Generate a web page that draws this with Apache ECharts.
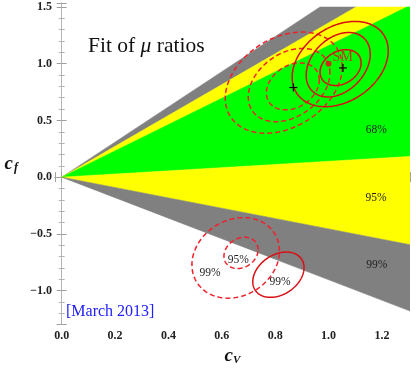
<!DOCTYPE html>
<html>
<head>
<meta charset="utf-8">
<script src="https://cdn.jsdelivr.net/npm/echarts@6/dist/echarts.min.js"></script>
<style>html,body{margin:0;padding:0;background:#fff;}#c{width:417px;height:371px;}</style>
</head>
<body>
<div id="c"></div>
<script>
// ---- data ----
const xRange = [-0.025, 1.305];
const yRange = [-1.3, 1.535];
const wedgeClipY = [-1.3, 1.5];
// wedge boundaries (slopes cf/cV), [low, high, colour]
const wedgeLow  = [1.36, 1.16, 0.14, -0.456, -0.905];
const wedgeHigh = [1.55, 1.36, 1.16, 0.14, -0.456];
const wedgeColor = ['#808080', '#ffff00', '#00ff00', '#ffff00', '#808080'];
// ellipses: centre x, centre y, half-width, half-height, phase (deg)
const solidEllipses = [
  [1.0435, 0.997, 0.180, 0.376, 72],
  [1.036, 0.991, 0.120, 0.284, 71],
  [1.045, 0.966, 0.077, 0.158, 75],
  [0.812, -0.860, 0.096, 0.200, 72]
];
const dashedEllipses = [
  [0.832, 0.833, 0.219, 0.446, 72],
  [0.852, 0.812, 0.153, 0.323, 71],
  [0.866, 0.800, 0.099, 0.207, 74],
  [0.652, -0.712, 0.164, 0.355, 80],
  [0.672, -0.668, 0.064, 0.138, 78]
];
const bestFits = [[1.054, 0.963], [0.868, 0.79]];
const smPoint = [[1.0, 1.0]];
const regionLabels = [
  [1.179, 0.416, '68%'],
  [1.178, -0.187, '95%'],
  [1.181, -0.776, '99%'],
  [0.662, -0.727, '95%'],
  [0.556, -0.842, '99%'],
  [0.818, -0.928, '99%']
];

const SERIF = '"Liberation Serif", "DejaVu Serif", serif';

function clipY(poly, yLo, yHi) {
  function clip(pts, inside, inter) {
    const out = [];
    for (let i = 0; i < pts.length; i++) {
      const a = pts[i], b = pts[(i + 1) % pts.length];
      const ia = inside(a), ib = inside(b);
      if (ia) out.push(a);
      if (ia !== ib) out.push(inter(a, b));
    }
    return out;
  }
  const interAt = (y) => (a, b) => { const t = (y - a[1]) / (b[1] - a[1]); return [a[0] + t * (b[0] - a[0]), y]; };
  let p = clip(poly, q => q[1] <= yHi, interAt(yHi));
  p = clip(p, q => q[1] >= yLo, interAt(yLo));
  return p;
}

const wedgeData = wedgeLow.map((k, i) => [0, 0, k, wedgeHigh[i], i]);
const fmt = v => (v < 0 ? '\u2212' : '') + Math.abs(v).toFixed(1);

const chart = echarts.init(document.getElementById('c'), null, {renderer: 'canvas'});

const axisCommon = {
  type: 'value',
  axisLine: {show: true, lineStyle: {color: '#b4b4b4', width: 1}},
  axisTick: {show: true, inside: true, length: 5, lineStyle: {color: '#a0a0a0'}},
  minorTick: {show: true, length: 3, lineStyle: {color: '#b4b4b4'}},
  splitLine: {show: false},
  axisLabel: {showMinLabel: false, showMaxLabel: false, formatter: fmt, fontFamily: SERIF, fontWeight: 'bold', fontSize: 12, color: '#222'}
};

function ellipseSeries(data, dashed) {
  return {
    type: 'custom', xAxisIndex: 0, yAxisIndex: 0, clip: true, z: 5,
    data: data,
    renderItem: function (params, api) {
      const cx = api.value(0), cy = api.value(1), A = api.value(2), B = api.value(3), ph = api.value(4) * Math.PI / 180;
      const pts = [];
      for (let i = 0; i <= 160; i++) {
        const t = 2 * Math.PI * i / 160;
        pts.push(api.coord([cx + A * Math.cos(t), cy + B * Math.cos(t - ph)]));
      }
      return {type: 'polyline', shape: {points: pts},
        style: {stroke: dashed ? '#f0202a' : '#d80e14', lineWidth: 1.5, fill: null, lineDash: dashed ? [5, 3] : null}};
    }
  };
}

const option = {
  animation: false,
  grid: {left: 55, right: 7, top: 3, bottom: 40},
  xAxis: [
    Object.assign({}, axisCommon, {min: xRange[0], max: xRange[1], splitNumber: 7, position: 'bottom',
      minorTick: Object.assign({}, axisCommon.minorTick, {splitNumber: 4}),
      axisLabel: Object.assign({}, axisCommon.axisLabel, {margin: 5}),
      name: '{c|c}{s|V}', nameLocation: 'middle', nameGap: 20,
      nameTextStyle: {rich: {
        c: {fontFamily: SERIF, fontStyle: 'italic', fontWeight: 'bold', fontSize: 19, color: '#111', lineHeight: 20},
        s: {fontFamily: SERIF, fontStyle: 'italic', fontWeight: 'bold', fontSize: 11, color: '#111', lineHeight: 20, verticalAlign: 'bottom', padding: [8, 0, 0, 0]}
      }}}),
    Object.assign({}, axisCommon, {min: xRange[0], max: xRange[1], splitNumber: 7, position: 'top',
      minorTick: Object.assign({}, axisCommon.minorTick, {splitNumber: 4}),
      axisLabel: {show: false}})
  ],
  yAxis: [
    Object.assign({}, axisCommon, {min: yRange[0], max: yRange[1], splitNumber: 6, position: 'left',
      minorTick: Object.assign({}, axisCommon.minorTick, {splitNumber: 5}),
      axisLabel: Object.assign({}, axisCommon.axisLabel, {margin: 3}),
      name: '{c|c}{s|f}', nameLocation: 'middle', nameGap: 37, nameRotate: 0,
      nameTextStyle: {rich: {
        c: {fontFamily: SERIF, fontStyle: 'italic', fontWeight: 'bold', fontSize: 19, color: '#111', lineHeight: 20},
        s: {fontFamily: SERIF, fontStyle: 'italic', fontWeight: 'bold', fontSize: 12, color: '#111', lineHeight: 20, verticalAlign: 'bottom', padding: [8, 0, 0, 1]}
      }}}),
    Object.assign({}, axisCommon, {min: yRange[0], max: yRange[1], splitNumber: 6, position: 'right',
      minorTick: Object.assign({}, axisCommon.minorTick, {splitNumber: 5}),
      axisLabel: {show: false}})
  ],
  series: [
    {
      type: 'custom', xAxisIndex: 0, yAxisIndex: 0, clip: true, z: 1,
      data: wedgeData,
      renderItem: function (params, api) {
        const kLo = api.value(2), kHi = api.value(3), idx = api.value(4);
        const X = xRange[1];
        let poly = [[0, 0], [X, kLo * X], [X, kHi * X]];
        poly = clipY(poly, wedgeClipY[0], wedgeClipY[1]);
        return {type: 'polygon', shape: {points: poly.map(p => api.coord(p))},
          style: {fill: wedgeColor[idx], stroke: wedgeColor[idx], lineWidth: 0.5}};
      }
    },
    ellipseSeries(dashedEllipses, true),
    ellipseSeries(solidEllipses, false),
    {
      type: 'custom', xAxisIndex: 0, yAxisIndex: 0, z: 6,
      data: bestFits,
      renderItem: function (params, api) {
        const p = api.coord([api.value(0), api.value(1)]);
        const s = 4;
        return {type: 'group', children: [
          {type: 'line', shape: {x1: p[0] - s, y1: p[1], x2: p[0] + s, y2: p[1]}, style: {stroke: '#000', lineWidth: 1.2}},
          {type: 'line', shape: {x1: p[0], y1: p[1] - s, x2: p[0], y2: p[1] + s}, style: {stroke: '#000', lineWidth: 1.2}}
        ]};
      }
    },
    {
      type: 'scatter', xAxisIndex: 0, yAxisIndex: 0, z: 7,
      data: smPoint, symbol: 'circle', symbolSize: 6,
      itemStyle: {color: '#e3101a'},
      label: {show: true, formatter: 'SM', position: 'right', distance: 1, offset: [0, -6],
        fontFamily: SERIF, fontSize: 14, color: '#e3101a'}
    },
    {
      type: 'custom', xAxisIndex: 0, yAxisIndex: 0, z: 8,
      data: regionLabels,
      renderItem: function (params, api) {
        const p = api.coord([api.value(0), api.value(1)]);
        return {type: 'text', x: p[0], y: p[1],
          style: {text: regionLabels[params.dataIndex][2], align: 'center', verticalAlign: 'middle',
            fontFamily: SERIF, fontSize: 11.5, fill: '#222'}};
      }
    }
  ],
  graphic: [
    {type: 'text', left: 88, top: 35, style: {
      text: '{a|Fit of }{m|μ}{a| ratios}',
      rich: {a: {fontFamily: SERIF, fontSize: 21.5, fill: '#111'}, m: {fontFamily: SERIF, fontStyle: 'italic', fontSize: 21.5, fill: '#111'}}
    }},
    {type: 'text', left: 66, top: 304, style: {text: '[March 2013]', fontFamily: SERIF, fontSize: 16, fill: '#2020ff'}}
  ]
};
chart.setOption(option);
</script>
</body>
</html>
